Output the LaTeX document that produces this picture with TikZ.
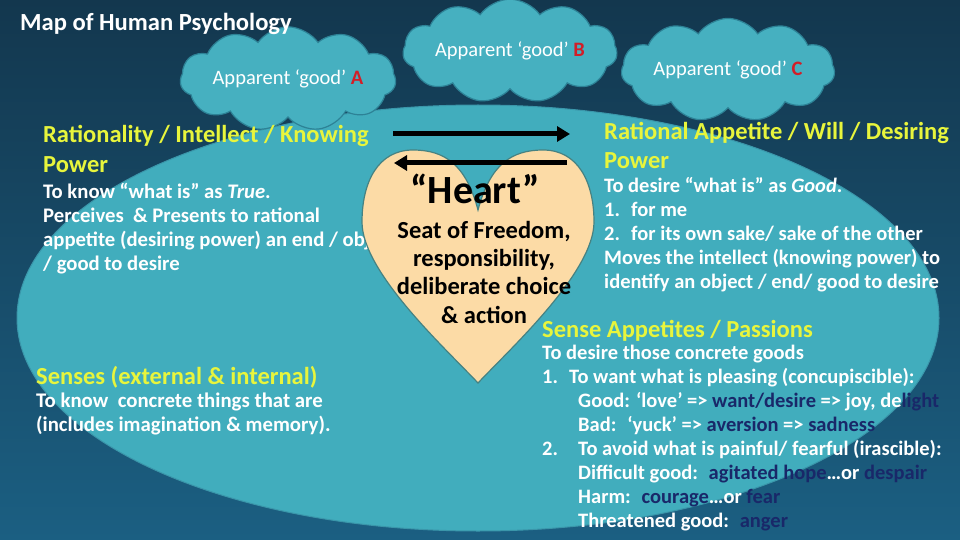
\documentclass[tikz,border=0pt]{standalone}
\usepackage{fontspec}
\setmainfont{Carlito}
\usetikzlibrary{shapes.symbols, arrows.meta}
\definecolor{bgtop}{RGB}{19,55,78}
\definecolor{bgbot}{RGB}{27,95,130}
\definecolor{ellfill}{RGB}{65,173,189}
\definecolor{ellline}{RGB}{58,150,170}
\definecolor{cloudfill}{RGB}{70,176,192}
\definecolor{cloudedge}{RGB}{45,130,150}
\definecolor{heartfill}{RGB}{252,219,166}
\definecolor{heartedge}{RGB}{70,130,130}
\definecolor{hdyellow}{RGB}{232,245,60}
\definecolor{navy}{RGB}{25,40,105}
\definecolor{redletter}{RGB}{210,30,40}
\tikzstyle{arrow}  = [line width=5pt,-{Triangle[length=13pt,width=15pt]}]
\tikzstyle{cloudy} = [cloud, cloud puffs=11, cloud puff arc=110, aspect=2.8, draw=cloudedge, fill=cloudfill, line width=1.2pt, minimum width=200pt, minimum height=66pt, inner sep=0pt, text=white, font=\fontsize{20.5}{24}\selectfont]
\tikzstyle{head}   = [anchor=base west, inner sep=0pt, text=hdyellow, align=left, font=\fontsize{24.5}{29}\selectfont\bfseries]
\tikzstyle{body}   = [anchor=base west, inner sep=0pt, text=white, align=left, font=\fontsize{20.5}{24}\selectfont\bfseries]
\tikzstyle{hearttext} = [anchor=base, inner sep=0pt, text=black, align=center, font=\fontsize{24.5}{28.3}\selectfont\bfseries]
\newcommand{\dk}[1]{\textcolor{navy}{#1}}
\newcommand{\num}[2]{\makebox[#1][l]{#2}}

\begin{document}
\begin{tikzpicture}[x=1pt,y=-1pt]

% pozadi
\useasboundingbox (0,0) rectangle (960,540);
\shade[top color=bgtop,bottom color=bgbot] (0,0) rectangle (960,540);

% elipsa
\filldraw[fill=ellfill,draw=ellline,line width=1pt] (478,318) ellipse [x radius=461pt,y radius=213pt];

% mraky
\node[cloudy] (cA) at (288,79) {Apparent ‘good’ \textcolor{redletter}{\bfseries A}};
\node[cloudy] (cB) at (510,51) {Apparent ‘good’ \textcolor{redletter}{\bfseries B}};
\node[cloudy] (cC) at (728,70) {Apparent ‘good’ \textcolor{redletter}{\bfseries C}};

% nadpis
\node[anchor=base west, inner sep=0pt, text=white, font=\fontsize{24.6}{28}\selectfont\bfseries] (map) at (20,31) {Map of Human Psychology};

% levy blok (kotva = posledni radek)
\node[head] (intel) at (43,172) {Rationality / Intellect / Knowing\\Power};
\node[body, font=\fontsize{20.7}{24}\selectfont\bfseries] (intelb) at (43,270) {To know “what is” as \textit{True}.\\
Perceives~ \& Presents to rational\\
appetite (desiring power) an end / object\\
/ good to desire};

\node[head] (sens) at (36,384) {Senses (external \& internal)};
\node[body, font=\fontsize{20.8}{24}\selectfont\bfseries] (sensb) at (36,431) {To know~ concrete things that are\\
(includes imagination \& memory).};

% pravy blok
\node[head] (will) at (604,169) {Rational Appetite / Will / Desiring\\Power};
\node[body] (willb) at (604,288) {To desire “what is” as \textit{Good}.\\
\num{27pt}{1.}for me\\
\num{27pt}{2.}for its own sake/ sake of the other\\
Moves the intellect (knowing power) to\\
identify an object / end/ good to desire};

\node[head] (pass) at (542,337) {Sense Appetites / Passions};
\node[body] (passb) at (542,527) {To desire those concrete goods\\
\num{27pt}{1.}To want what is pleasing (concupiscible):\\
\hspace*{36pt}Good: ‘love’ => \dk{want/desire} => joy, de\dk{light}\\
\hspace*{36pt}Bad:~ ‘yuck’ => \dk{aversion} => \dk{sadness}\\
\num{36pt}{2.}To avoid what is painful/ fearful (irascible):\\
\hspace*{36pt}Difficult good:~ \dk{agitated hope}…or \dk{despair}\\
\hspace*{36pt}Harm:~ \dk{courage}…or \dk{fear}\\
\hspace*{36pt}Threatened good:~ \dk{anger}};

% srdce
\filldraw[fill=heartfill,draw=heartedge,line width=1.2pt] (478,210) .. controls (466,165) and (445,150) .. (413,150) .. controls (378,150) and (362,182) .. (362,222) .. controls (362,272) and (445,348) .. (478,383) .. controls (511,348) and (594,272) .. (594,222) .. controls (594,182) and (578,150) .. (543,150) .. controls (511,150) and (490,165) .. (478,210) -- cycle;
\node[hearttext, font=\fontsize{40}{44}\selectfont\bfseries] (heart) at (475,203) {“Heart”};
\node[hearttext] (seat) at (484,323) {Seat of Freedom,\\responsibility,\\deliberate choice\\\& action};

% sipky
\coordinate (r1) at (393,134);
\coordinate (r2) at (570,134);
\coordinate (l1) at (567,163);
\coordinate (l2) at (394,163);
\draw[arrow] (r1) -- (r2);
\draw[arrow] (l1) -- (l2);

\end{tikzpicture}
\end{document}
